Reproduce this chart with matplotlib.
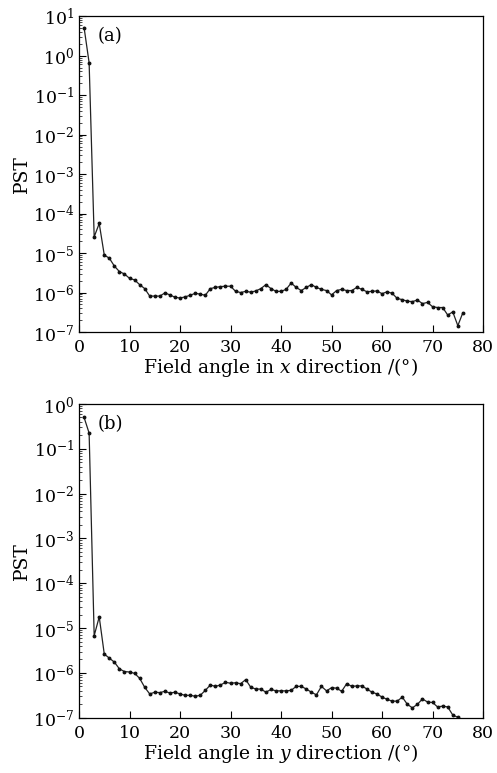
import numpy as np
import matplotlib
matplotlib.use("Agg")
import matplotlib.pyplot as plt
from matplotlib.ticker import LogLocator, MultipleLocator, NullFormatter

plt.rcParams['font.family'] = ['DejaVu Serif']
plt.rcParams['mathtext.fontset'] = 'dejavuserif'

# field angle (deg) and log10(PST)
angle_x = list(range(1, 77))
pst_x_log10 = [
    0.714, -0.18, -4.59, -4.25, -5.05, -5.13, -5.33, -5.47, -5.53, -5.64,
    -5.68, -5.80, -5.90, -6.09, -6.09, -6.09, -6.01, -6.06, -6.12, -6.14,
    -6.11, -6.07, -6.02, -6.04, -6.07, -5.90, -5.87, -5.85, -5.84, -5.84,
    -5.97, -6.00, -5.97, -5.99, -5.96, -5.90, -5.80, -5.90, -5.97, -5.97,
    -5.92, -5.76, -5.87, -5.95, -5.87, -5.80, -5.87, -5.92, -5.95, -6.06,
    -5.95, -5.92, -5.95, -5.95, -5.87, -5.92, -5.98, -5.97, -5.96, -6.03,
    -5.98, -6.02, -6.15, -6.18, -6.22, -6.23, -6.19, -6.28, -6.25, -6.36,
    -6.38, -6.38, -6.57, -6.49, -6.84, -6.51,
]

angle_y = list(range(1, 76))
pst_y_log10 = [
    -0.30, -0.65, -5.17, -4.75, -5.58, -5.67, -5.76, -5.91, -5.97, -5.98,
    -6.01, -6.12, -6.32, -6.47, -6.43, -6.44, -6.41, -6.45, -6.43, -6.47,
    -6.50, -6.50, -6.52, -6.50, -6.39, -6.27, -6.30, -6.27, -6.21, -6.23,
    -6.22, -6.24, -6.15, -6.32, -6.36, -6.36, -6.43, -6.37, -6.40, -6.40,
    -6.40, -6.39, -6.30, -6.30, -6.36, -6.43, -6.49, -6.30, -6.40, -6.33,
    -6.34, -6.41, -6.24, -6.30, -6.29, -6.29, -6.36, -6.43, -6.47, -6.54,
    -6.59, -6.63, -6.63, -6.54, -6.70, -6.78, -6.70, -6.58, -6.65, -6.66,
    -6.76, -6.74, -6.76, -6.94, -6.99,
]

fig = plt.figure(figsize=(4.97, 7.73), dpi=100)
ax1 = fig.add_axes([0.159, 0.5705, 0.813, 0.4085])
ax2 = fig.add_axes([0.159, 0.0715, 0.813, 0.4059])

panels = [
    (ax1, angle_x, pst_x_log10, (1e-7, 10), '(a)', r'Field angle in $x$ direction /(°)'),
    (ax2, angle_y, pst_y_log10, (1e-7, 1), '(b)', r'Field angle in $y$ direction /(°)'),
]

for ax, xs, ys, ylim, tag, xlabel in panels:
    ax.plot(xs, 10 ** np.array(ys), color='#222222', lw=0.9,
            marker='o', ms=1.8, mfc='#111111', mec='#111111')
    ax.set_yscale('log')
    ax.set_xlim(0, 80)
    ax.set_ylim(*ylim)
    ax.xaxis.set_major_locator(MultipleLocator(10))
    ax.yaxis.set_major_locator(LogLocator(base=10, numticks=20))
    ax.yaxis.set_minor_locator(LogLocator(base=10, subs=np.arange(2, 10), numticks=20))
    ax.yaxis.set_minor_formatter(NullFormatter())
    ax.tick_params(axis='both', which='major', direction='in', length=5,
                   width=0.8, labelsize=12.5, top=False, right=False)
    ax.tick_params(axis='x', which='major', pad=5)
    ax.tick_params(axis='y', which='minor', direction='in', length=2,
                   width=0.5, right=False)
    for sp in ax.spines.values():
        sp.set_linewidth(0.9)
    ax.set_ylabel('PST', fontsize=13.5, labelpad=1)
    ax.set_xlabel(xlabel, fontsize=13.5, labelpad=0)
    ax.text(0.045, 0.965, tag, transform=ax.transAxes, fontsize=13,
            va='top', ha='left')

fig.savefig('out.png', dpi=100)
